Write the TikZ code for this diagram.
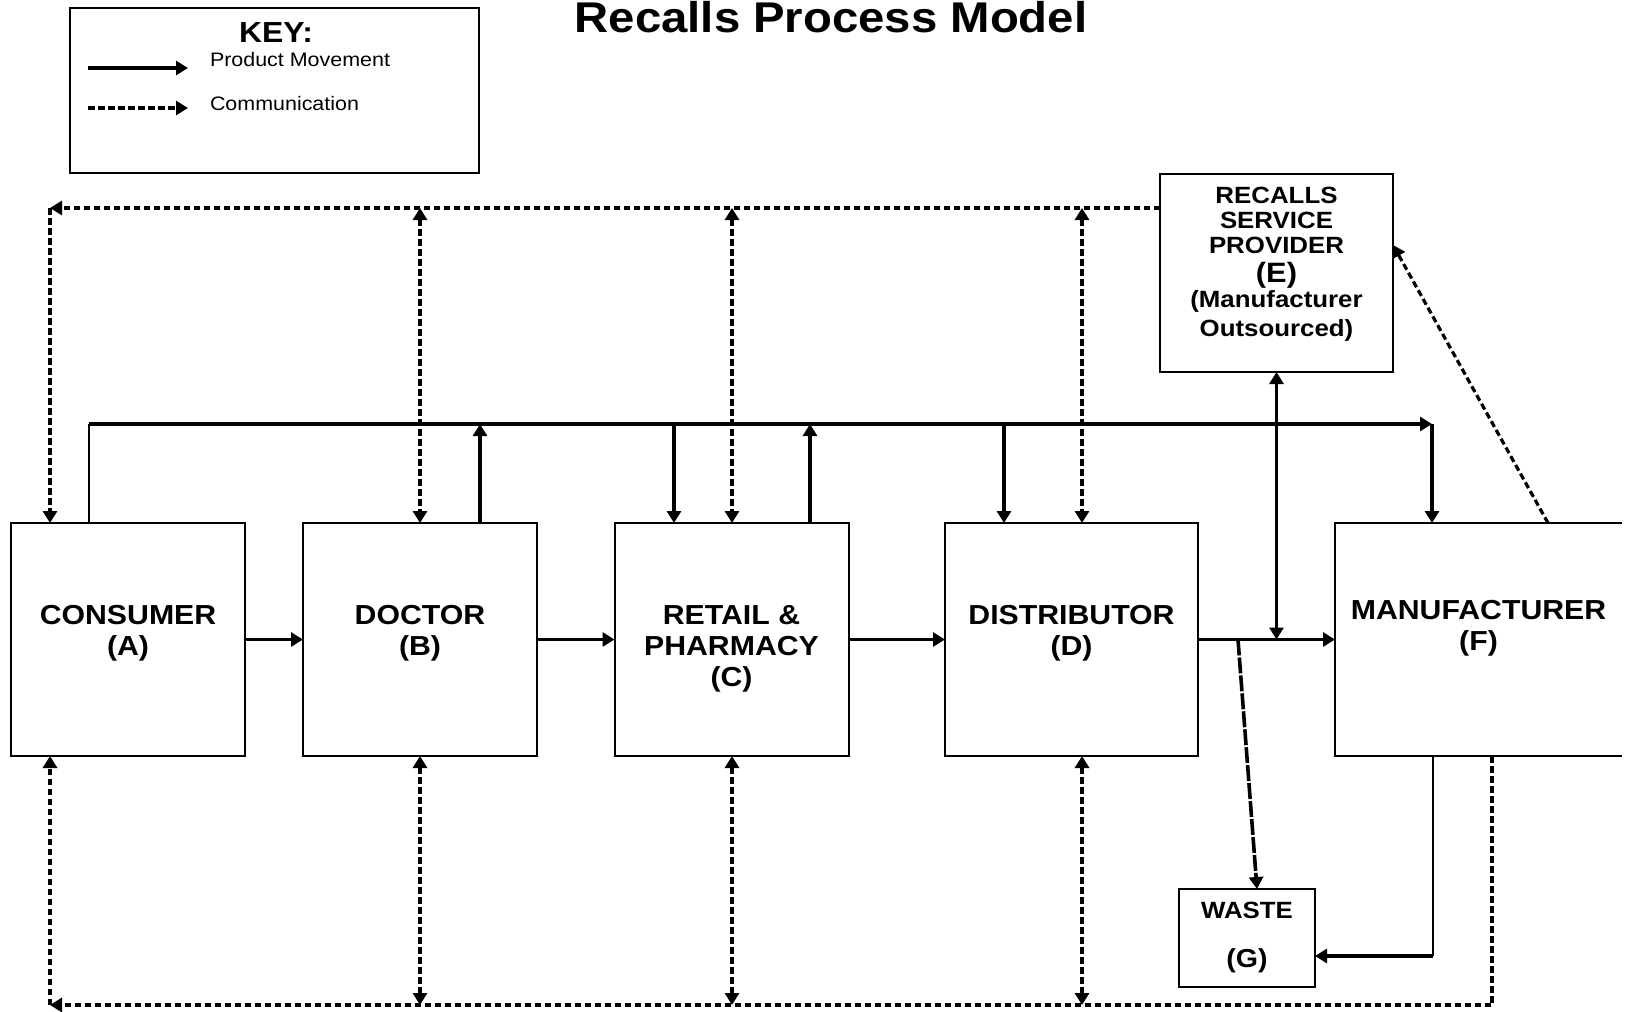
\documentclass[tikz,border=0pt]{standalone}
\usepackage{fontspec}
\setmainfont{Liberation Sans}[FakeStretch=1.1]
\usetikzlibrary{arrows.meta}
\tikzset{
    % node style
    every node/.style = {inner sep=0pt, outer sep=0pt},
    % arrow style
    >={Triangle[width=14pt, length=12pt]},
    % abstract base node style
    base/.style = {
        draw, rectangle, line width=2pt,
        text centered
    },
    % special node styles (inherited from base style)
    actorBox/.style = {base, minimum width=234pt, minimum height=233pt},
    bigText/.style = {font=\bfseries\fontsize{27.5}{31}\selectfont},
    smallText/.style = {font=\bfseries\fontsize{23.5}{25}\selectfont},
    keyText/.style = {font=\fontsize{19.5}{20}\selectfont, anchor=base west},
    % line styles
    productLine/.style = {line width=3.6pt},
    commLine/.style = {line width=3.2pt, dash pattern=on 6.5pt off 3.5pt},
    wasteLine/.style = {line width=3.6pt, dash pattern=on 16pt off 2pt}
}
\begin{document}
\begin{tikzpicture}[x=1pt, y=-1pt, align=center]
        \useasboundingbox (0,0) rectangle (1631,1012);
        % title and key
        \node[font=\bfseries\fontsize{43}{43}\selectfont, anchor=base] (title) at (831,32) {Recalls Process Model};
        \node[base] (key) [minimum width=409pt, minimum height=165pt] at (274.5,90.5) {};
        \node[font=\bfseries\fontsize{29}{29}\selectfont, anchor=base] (keyTitle) at (276,42) {KEY:};
        \node[keyText] (productText) at (210,66) {Product Movement};
        \node[keyText] (commText) at (210,110) {Communication};
        \coordinate (keyProdStart) at (88,68);
        \coordinate (keyProdEnd) at (188,68);
        \coordinate (keyCommStart) at (88,108);
        \coordinate (keyCommEnd) at (188,108);
        \draw[productLine, ->] (keyProdStart) -- (keyProdEnd);
        \draw[commLine, ->] (keyCommStart) -- (keyCommEnd);
        % place blocks of the chain
        \node[actorBox] (consumer) at (128,639.5) {};
        \node[actorBox] (doctor) at (420,639.5) {};
        \node[actorBox] (retail) at (731.5,639.5) {};
        \node[actorBox, minimum width=253pt] (distributor) at (1071.5,639.5) {};
        \node[actorBox, draw=none, minimum width=287pt] (manufacturer) at (1478.5,639.5) {};
        \node[base, minimum width=233pt, minimum height=198pt] (recalls) at (1276.5,273) {};
        \node[base, minimum width=136pt, minimum height=98pt] (waste) at (1247,938) {};
        \draw[line width=2pt] (manufacturer.north east) -- (manufacturer.north west)
            -- (manufacturer.south west) -- (manufacturer.south east);
        % texts of the blocks
        \node[bigText] (consumerText) at ([yshift=6pt]consumer.center) {CONSUMER\\(A)};
        \node[bigText] (doctorText) at ([yshift=6pt]doctor.center) {DOCTOR\\(B)};
        \node[bigText] (retailText) at ([yshift=-9pt]retail.center) {RETAIL \&\\PHARMACY\\(C)};
        \node[bigText] (distributorText) at ([yshift=6pt]distributor.center) {DISTRIBUTOR\\(D)};
        \node[bigText] (manufacturerText) at ([yshift=11pt]manufacturer.center) {MANUFACTURER\\(F)};
        \node[smallText] (recallsText) at ([yshift=8.5pt]recalls.center)
            {RECALLS\\SERVICE\\PROVIDER\\[4pt]{\fontsize{28}{28}\selectfont(E)}\\(Manufacturer\\[4pt]Outsourced)};
        \node[smallText] (wasteText) at ([yshift=0.5pt]waste.center) {WASTE\\[24pt]{\fontsize{26}{26}\selectfont(G)}};
        % points on the lines
        \coordinate (prodBusA) at (89,424);
        \coordinate (prodBusB) at (480,424);
        \coordinate (prodBusC1) at (674,424);
        \coordinate (prodBusC2) at (810,424);
        \coordinate (prodBusD) at (1004,424);
        \coordinate (prodBusF) at (1432,424);
        \coordinate (commTopA) at (50,208);
        \coordinate (commTopB) at (420,208);
        \coordinate (commTopC) at (732,208);
        \coordinate (commTopD) at (1082,208);
        \coordinate (commBotA) at (50,1005);
        \coordinate (commBotB) at (420,1005);
        \coordinate (commBotC) at (732,1005);
        \coordinate (commBotD) at (1082,1005);
        \coordinate (commBotF) at (1492,1005);
        \coordinate (wasteStart) at (1238,639.5);
        \coordinate (wasteCorner) at (1433,956);
        \coordinate (manufToRecalls) at (1548,523);
        % draw product movement
        \path[productLine, ->] (consumer) edge (doctor)
                  (doctor) edge (retail)
                  (retail) edge (distributor)
                  (distributor) edge (manufacturer);
        \draw[productLine, line width=2pt] (consumer.north -| prodBusA) -- (prodBusA);
        \draw[productLine, ->] (prodBusA) -- (prodBusF);
        \draw[productLine, ->] (prodBusF) -- (manufacturer.north -| prodBusF);
        \draw[productLine, ->] (doctor.north -| prodBusB) -- (prodBusB);
        \draw[productLine, ->] (prodBusC1) -- (retail.north -| prodBusC1);
        \draw[productLine, ->] (retail.north -| prodBusC2) -- (prodBusC2);
        \draw[productLine, ->] (prodBusD) -- (distributor.north -| prodBusD);
        \draw[productLine, <->] (recalls.south) -- (recalls.south |- distributor.east);
        \draw[wasteLine, ->] (wasteStart) -- ([xshift=10pt]waste.north);
        \draw[productLine, line width=2pt] (manufacturer.south -| wasteCorner) -- (wasteCorner);
        \draw[productLine, ->] (wasteCorner) -- (waste.east |- wasteCorner);
        % draw communication
        \draw[commLine, ->] (recalls.west |- commTopA) -- (commTopA);
        \draw[commLine, ->] (commTopA) -- (consumer.north -| commTopA);
        \foreach \actor/\pt in {doctor/commTopB, retail/commTopC, distributor/commTopD}
            \draw[commLine, <->] (\pt) -- (\actor.north -| \pt);
        \draw[commLine, ->] (manufacturer.south -| commBotF) |- (commBotA);
        \draw[commLine, ->] (commBotA) -- (consumer.south -| commBotA);
        \foreach \actor/\pt in {doctor/commBotB, retail/commBotC, distributor/commBotD}
            \draw[commLine, <->] (\actor.south -| \pt) -- (\pt);
        \draw[commLine, ->] (manufacturer.north -| manufToRecalls) -- ([yshift=28pt]recalls.east);
    \end{tikzpicture}
\end{document}
